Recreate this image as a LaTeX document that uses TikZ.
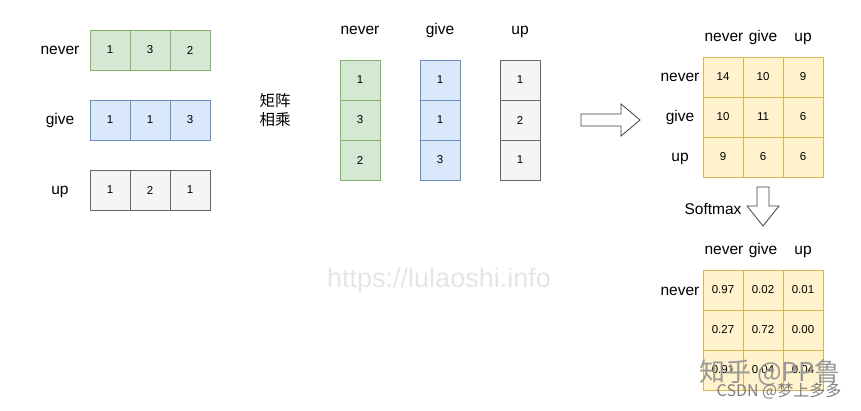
\documentclass[tikz,border=0pt]{standalone}
\usepackage{fontspec}
\setmainfont{Liberation Sans}
\newfontfamily\cjk{Noto Sans CJK SC}
\begin{document}
\begin{tikzpicture}[x=1pt,y=-1pt,
  cell/.style={draw,minimum width=40pt,minimum height=40pt,inner sep=0pt,line width=0.8pt,font=\fontsize{11.5}{12}\selectfont},
  gcell/.style={cell,fill=gfill,draw=gline},
  bcell/.style={cell,fill=bfill,draw=bline},
  ccell/.style={cell,fill=cfill,draw=cline},
  ycell/.style={cell,fill=yfill,draw=yline},
  lbl/.style={font=\fontsize{15.5}{16}\selectfont,inner sep=0pt,text height=13.5pt,text depth=3.5pt},
  blockarrow/.style={draw=black!75,fill=white,line width=0.8pt,line join=miter},
  wmark/.style={inner sep=0pt}]
\definecolor{gfill}{HTML}{D5E8D4}\definecolor{gline}{HTML}{82B366}
\definecolor{bfill}{HTML}{DAE8FC}\definecolor{bline}{HTML}{6C8EBF}
\definecolor{cfill}{HTML}{F5F5F5}\definecolor{cline}{HTML}{666666}
\definecolor{yfill}{HTML}{FFF2CC}\definecolor{yline}{HTML}{D6B656}
\useasboundingbox (0,0) rectangle (861,411);
% left rows
\node[lbl] (lnever) at (60,50) {never};
\node[lbl] (lgive) at (60,120) {give};
\node[lbl] (lup) at (60,190) {up};
\node[gcell] (a11) at (110,50) {1};
\node[gcell] (a12) at (150,50) {3};
\node[gcell] (a13) at (190,50) {2};
\node[bcell] (a21) at (110,120) {1};
\node[bcell] (a22) at (150,120) {1};
\node[bcell] (a23) at (190,120) {3};
\node[ccell] (a31) at (110,190) {1};
\node[ccell] (a32) at (150,190) {2};
\node[ccell] (a33) at (190,190) {1};
% middle
\node[align=center,inner sep=0pt,font=\cjk\fontsize{15.5}{19}\selectfont] (mul) at (275,110) {矩阵\\相乘};
\node[lbl] (cnever) at (360,30) {never};
\node[lbl] (cgive) at (440,30) {give};
\node[lbl] (cup) at (520,30) {up};
\node[gcell] (b11) at (360,80) {1};
\node[gcell] (b21) at (360,120) {3};
\node[gcell] (b31) at (360,160) {2};
\node[bcell] (b12) at (440,80) {1};
\node[bcell] (b22) at (440,120) {1};
\node[bcell] (b32) at (440,160) {3};
\node[ccell] (b13) at (520,80) {1};
\node[ccell] (b23) at (520,120) {2};
\node[ccell] (b33) at (520,160) {1};
% right arrow
\draw[blockarrow] (581,114) -- (621,114) -- (621,104) -- (640,120) -- (621,136) -- (621,126) -- (581,126) -- cycle;
% score matrix
\node[lbl] (snever) at (724,37) {never};
\node[lbl] (sgive) at (763,37) {give};
\node[lbl] (sup) at (803,37) {up};
\node[lbl] (rnever) at (680,77) {never};
\node[lbl] (rgive) at (680,117) {give};
\node[lbl] (rup) at (680,157) {up};
\node[ycell] (s11) at (723,77) {14};
\node[ycell] (s12) at (763,77) {10};
\node[ycell] (s13) at (803,77) {9};
\node[ycell] (s21) at (723,117) {10};
\node[ycell] (s22) at (763,117) {11};
\node[ycell] (s23) at (803,117) {6};
\node[ycell] (s31) at (723,157) {9};
\node[ycell] (s32) at (763,157) {6};
\node[ycell] (s33) at (803,157) {6};
% softmax arrow
\draw[blockarrow] (757,187) -- (769,187) -- (769,206) -- (779,206) -- (763,226) -- (747,206) -- (757,206) -- cycle;
\node[lbl] (softmax) at (713,210) {Softmax};
% softmax matrix
\node[lbl] (tnever) at (724,250) {never};
\node[lbl] (tgive) at (763,250) {give};
\node[lbl] (tup) at (803,250) {up};
\node[lbl] (qnever) at (680,290) {never};
\node[ycell] (t11) at (723,290) {0.97};
\node[ycell] (t12) at (763,290) {0.02};
\node[ycell] (t13) at (803,290) {0.01};
\node[ycell] (t21) at (723,330) {0.27};
\node[ycell] (t22) at (763,330) {0.72};
\node[ycell] (t23) at (803,330) {0.00};
\node[ycell] (t31) at (723,370) {0.91};
\node[ycell] (t32) at (763,370) {0.04};
\node[ycell] (t33) at (803,370) {0.04};
% watermarks
\node[wmark,text=black!10,font=\fontsize{27}{29}\selectfont] (wm1) at (439,281) {https://lulaoshi.info};
\node[wmark,text=black!40,font=\cjk\fontsize{26}{28}\selectfont] (wm2) at (770,373) {知乎 @PP鲁};
\node[wmark,text=black!50,font=\cjk\fontsize{16}{18}\selectfont] (wm3) at (779,391) {CSDN @梦上多多};
\end{tikzpicture}
\end{document}
